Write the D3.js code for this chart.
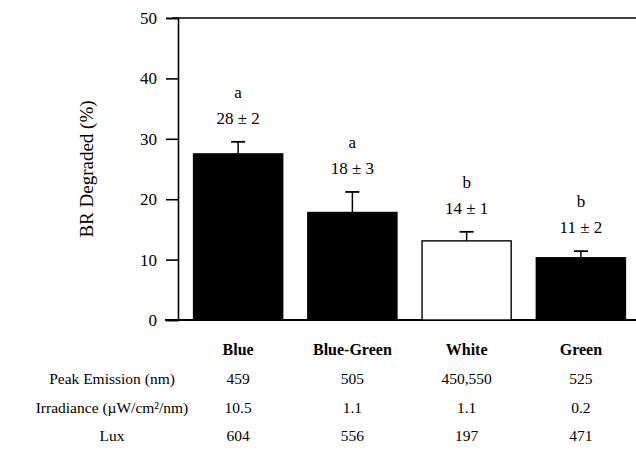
<!DOCTYPE html>
<html>
<head>
<meta charset="utf-8">
<script src="https://cdn.jsdelivr.net/npm/d3@7"></script>
<style>
  html, body { margin: 0; padding: 0; background: #fff; }
  svg text { font-family: "Liberation Serif", "Times New Roman", "DejaVu Serif", serif; fill: #000; }
</style>
</head>
<body>
<div id="chart"></div>
<script>
// values
const categories = ["Blue", "Blue-Green", "White", "Green"];
const means = [27.5, 17.8, 13.1, 10.3];
const errUp = [2.0, 3.4, 1.5, 1.1];
const statLabels = ["28 \u00b1 2", "18 \u00b1 3", "14 \u00b1 1", "11 \u00b1 2"];
const groupLetters = ["a", "a", "b", "b"];
const yTicks = [0, 10, 20, 30, 40, 50];

const rowLabels = ["Peak Emission (nm)", "Irradiance (\u00b5W/cm\u00b2/nm)", "Lux"];
const peakEmission = ["459", "505", "450,550", "525"];
const irradiance = ["10.5", "1.1", "1.1", "0.2"];
const lux = ["604", "556", "197", "471"];
const tableRows = [peakEmission, irradiance, lux];

const width = 636, height = 455;
const axisX = 178, plotTop = 18, plotBase = 320;
const serif = "'Liberation Serif', 'Times New Roman', 'DejaVu Serif', serif";

const svg = d3.select("#chart").append("svg")
    .attr("width", width)
    .attr("height", height)
    .attr("font-family", serif);

const x = d3.scaleBand()
    .domain(categories)
    .range([181, 638])
    .paddingInner(0.22)
    .paddingOuter(0.11);

const y = d3.scaleLinear()
    .domain([0, 50])
    .range([plotBase, plotTop]);

// frame lines (top and bottom run to the page edge)
svg.append("line")
    .attr("x1", axisX - 6).attr("x2", width)
    .attr("y1", y(50)).attr("y2", y(50))
    .attr("stroke", "#000").attr("stroke-width", 1.6);
svg.append("line")
    .attr("x1", 165).attr("x2", width)
    .attr("y1", y(0)).attr("y2", y(0))
    .attr("stroke", "#000").attr("stroke-width", 1.8);

// y axis
const yAxis = svg.append("g")
    .attr("transform", `translate(${axisX},0)`)
    .call(d3.axisLeft(y).tickValues(yTicks).tickSize(12).tickPadding(9));
yAxis.attr("font-family", serif).attr("font-size", 17);
yAxis.select(".domain").attr("stroke-width", 1.6);
yAxis.selectAll(".tick line").attr("stroke-width", 1.6);
yAxis.selectAll(".tick text").attr("fill", "#000");

svg.append("text")
    .attr("transform", `translate(93,${(plotTop + plotBase) / 2}) rotate(-90)`)
    .attr("text-anchor", "middle")
    .attr("font-size", 19)
    .text("BR Degraded (%)");

// bars
const bars = categories.map((c, i) => ({cat: c, mean: means[i], err: errUp[i], stat: statLabels[i], letter: groupLetters[i]}));
const cx = d => x(d.cat) + x.bandwidth() / 2;

svg.selectAll("line.err")
    .data(bars)
    .join("line")
    .attr("class", "err")
    .attr("x1", cx)
    .attr("x2", cx)
    .attr("y1", d => y(d.mean))
    .attr("y2", d => y(d.mean + d.err))
    .attr("stroke", "#000").attr("stroke-width", 1.5);

svg.selectAll("line.cap")
    .data(bars)
    .join("line")
    .attr("class", "cap")
    .attr("x1", d => cx(d) - 7)
    .attr("x2", d => cx(d) + 7)
    .attr("y1", d => y(d.mean + d.err))
    .attr("y2", d => y(d.mean + d.err))
    .attr("stroke", "#000").attr("stroke-width", 1.8);

svg.selectAll("rect.bar")
    .data(bars)
    .join("rect")
    .attr("class", "bar")
    .attr("x", d => x(d.cat))
    .attr("y", d => y(d.mean))
    .attr("width", x.bandwidth())
    .attr("height", d => y(0) - y(d.mean))
    .attr("fill", d => d.cat === "White" ? "#fff" : "#000")
    .attr("stroke", "#000")
    .attr("stroke-width", 1.4);

svg.selectAll("text.stat")
    .data(bars)
    .join("text")
    .attr("class", "stat")
    .attr("x", cx)
    .attr("y", d => y(d.mean + d.err) - 18)
    .attr("text-anchor", "middle")
    .attr("font-size", 17)
    .text(d => d.stat);

svg.selectAll("text.letter")
    .data(bars)
    .join("text")
    .attr("class", "letter")
    .attr("x", cx)
    .attr("y", d => y(d.mean + d.err) - 44)
    .attr("text-anchor", "middle")
    .attr("font-size", 17)
    .text(d => d.letter);

// table under the chart
const rowY = [384, 413, 441];

svg.selectAll("text.cat")
    .data(categories)
    .join("text")
    .attr("class", "cat")
    .attr("x", d => x(d) + x.bandwidth() / 2)
    .attr("y", 355)
    .attr("text-anchor", "middle")
    .attr("font-size", 16)
    .attr("font-weight", "bold")
    .text(d => d);

svg.selectAll("text.rowlabel")
    .data(rowLabels)
    .join("text")
    .attr("class", "rowlabel")
    .attr("x", 112)
    .attr("y", (d, i) => rowY[i])
    .attr("text-anchor", "middle")
    .attr("font-size", 15.5)
    .text(d => d);

tableRows.forEach((row, r) => {
    svg.selectAll(`text.cell${r}`)
        .data(row)
        .join("text")
        .attr("class", `cell${r}`)
        .attr("x", (d, i) => x(categories[i]) + x.bandwidth() / 2)
        .attr("y", rowY[r])
        .attr("text-anchor", "middle")
        .attr("font-size", 15.5)
        .text(d => d);
});
</script>
</body>
</html>
